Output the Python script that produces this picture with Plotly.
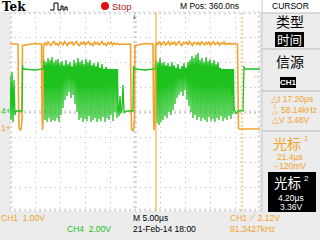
import plotly.graph_objects as go

W, H = 320, 240
GX0, GX1, GY0, GY1 = 10, 260, 12, 211   # graticule box in pixels

# ---------------- data ----------------
T_RANGE = [-25.0, 25.0]          # µs, 5 µs/div
CH1_RANGE = [-3.32, 4.64]        # V, 1 V/div
CH4_RANGE = [-8.0, 7.92]         # V, 2 V/div

cursor1_t = 21.4
cursor2_t = 4.20

# CH1 (orange) explicit pieces (µs, V)
ch1_pre_t = [-25.0, -23.4, -23.3, -23.2, -23.0, -22.8, -22.6, -22.5, -20.0, -18.7, -18.6, -18.5, -18.4, -18.3]
ch1_pre_v = [3.36, 3.36, 1.2, 0.0, -0.08, -0.06, 0.3, 3.3, 3.38, 3.36, 0.8, -0.08, 0.2, 3.3]
ch1_noise1_start, ch1_noise_step = -18.0, 0.3
ch1_noise1 = [3.40, 3.32, 3.44, 3.36, 3.30, 3.42, 3.46, 3.34, 3.38, 3.30, 3.44, 3.40, 3.32,
              3.46, 3.36, 3.30, 3.42, 3.38, 3.44, 3.32, 3.40, 3.46, 3.34, 3.30, 3.42, 3.36,
              3.44, 3.32, 3.40, 3.46, 3.34, 3.38, 3.30, 3.44, 3.36, 3.42, 3.32, 3.40, 3.46,
              3.34, 3.38, 3.30, 3.42, 3.36, 3.44, 3.32, 3.40, 3.36, 3.38, 3.34]
ch1_mid_t = [-2.0, -0.9, -0.8, -0.7, -0.5, -0.3, -0.1, 0.0, 2.0, 3.6, 3.7, 3.8, 3.95, 4.1]
ch1_mid_v = [3.36, 3.36, 1.2, 0.0, -0.1, -0.08, 0.3, 3.3, 3.38, 3.36, 0.8, -0.1, 0.1, 3.3]
ch1_noise2_start = 4.3
ch1_noise2 = [3.42, 3.34, 3.46, 3.30, 3.40, 3.44, 3.32, 3.38, 3.46, 3.30, 3.42, 3.36, 3.44,
              3.32, 3.40, 3.46, 3.34, 3.30, 3.42, 3.38, 3.44, 3.32, 3.46, 3.36, 3.30, 3.42,
              3.40, 3.34, 3.44, 3.30, 3.46, 3.38, 3.32, 3.42, 3.36, 3.44, 3.30, 3.40, 3.46,
              3.34, 3.38, 3.42, 3.32, 3.40, 3.36, 3.44, 3.34, 3.38, 3.36, 3.40, 3.34, 3.38, 3.36]
ch1_post_t = [20.2, 20.5, 20.6, 20.7, 20.9, 25.0]
ch1_post_v = [3.36, 3.36, 1.5, 0.0, -0.04, -0.04]

# CH4 (green) pieces (µs, V)
ch4_pre_t = [-25.0, -24.8, -24.6, -24.4, -24.2, -24.0, -23.8, -23.0, -22.6, -22.5, -22.4, -22.2, -20.0, -18.3]
ch4_pre_v = [2.88, -0.72, 3.12, -0.88, 2.48, -0.32, 0.0, 0.04, 0.0, 3.68, 3.36, 3.36, 3.28, 3.36]
ch4_burst_level = 3.36           # level the bursts keep returning to
ch4_pair_step = 0.4
burst1_start = -18.2
burst1_hi = [4.08, 3.92, 4.24, 4.08, 4.32, 3.92, 4.08, 4.16, 3.84, 4.0, 3.68, 4.08, 3.76, 3.92,
             3.6, 4.08, 3.84, 4.24, 3.92, 4.08, 3.76, 4.16, 3.92, 4.08, 3.68, 3.84, 3.6, 3.92,
             3.44, 3.76, 3.28, 3.52, 3.12, 2.64, 2.96, 2.08, 1.68]
burst1_lo = [-0.72, -0.88, -0.56, -0.88, -0.72, -0.8, -0.56, -0.88, -0.32, 0.24, 0.88, 1.2,
             1.52, 1.04, 1.28, 0.56, -0.08, -0.72, -0.56, -0.88, -0.64, -0.8, -0.4, -0.88,
             -0.72, -0.56, -0.88, -0.64, -0.8, -0.48, -0.88, -0.56, -0.72, -0.32, -0.8, -0.08, -0.56]
ch4_mid_t = [-3.4, -3.2, -3.0, -2.8, -2.6, -2.4, -2.2, -1.5, -0.4, -0.3, -0.2, 0.0, 2.0, 4.0]
ch4_mid_v = [0.4, -0.4, 1.2, -0.2, 0.1, 2.08, -0.1, 0.0, 0.0, 3.6, 3.36, 3.36, 3.28, 3.36]
burst2_start = 4.2
burst2_hi = [4.08, 3.92, 4.24, 3.84, 3.92, 3.68, 3.84, 3.6, 3.92, 3.68, 3.44, 3.76, 3.28, 3.6,
             3.84, 3.44, 3.92, 4.08, 4.4, 4.24, 4.48, 4.64, 4.08, 4.24, 3.92, 4.32, 4.0, 4.16,
             3.84, 4.08, 3.76, 3.92, 3.44, 3.12, 3.28, 2.64, 2.32, 1.84, 1.28]
burst2_lo = [-0.96, -1.12, -0.88, -0.72, -0.4, -0.56, -0.08, -0.32, 0.08, 0.56, 1.04, 1.28,
             1.52, 1.2, 1.68, 0.88, 0.4, -0.08, -0.56, -0.32, -0.72, -0.48, -0.8, -0.56,
             -0.72, -0.88, -0.48, -0.8, -0.64, -0.88, -0.56, -0.72, -0.4, -0.8, -0.56, -0.72,
             -0.4, -0.64, -0.24]
ch4_post_t = [19.8, 20.2, 20.6, 21.0, 21.6, 21.8, 21.9, 22.2, 25.0]
ch4_post_v = [0.2, -0.2, 0.0, 0.04, 0.0, 3.6, 3.36, 3.36, 3.36]

# ---------------- assemble ----------------
def sampled(start, step, vals):
    return [start + i * step for i in range(len(vals))], list(vals)

def burst(start, step, hi, lo, level):
    ts, vs = [], []
    for i, (a, b) in enumerate(zip(hi, lo)):
        t = start + i * step
        ts += [t, t + step * 0.25, t + step * 0.5, t + step * 0.75]
        vs += [a, level, b, level]
    return ts, vs

n1t, n1v = sampled(ch1_noise1_start, ch1_noise_step, ch1_noise1)
n2t, n2v = sampled(ch1_noise2_start, ch1_noise_step, ch1_noise2)
ch1_t = ch1_pre_t + n1t + ch1_mid_t + n2t + ch1_post_t
ch1_v = ch1_pre_v + n1v + ch1_mid_v + n2v + ch1_post_v

b1t, b1v = burst(burst1_start, ch4_pair_step, burst1_hi, burst1_lo, ch4_burst_level)
b2t, b2v = burst(burst2_start, ch4_pair_step, burst2_hi, burst2_lo, ch4_burst_level)
ch4_t = ch4_pre_t + b1t + ch4_mid_t + b2t + ch4_post_t
ch4_v = ch4_pre_v + b1v + ch4_mid_v + b2v + ch4_post_v

ORANGE = "#F2A22A"
GREEN = "#1EC21E"
GRID = "#BEBEBE"
FONT = "Liberation Sans"
CJK = "Noto Sans CJK SC"

fig = go.Figure()
fig.add_trace(go.Scatter(x=ch4_t, y=ch4_v, mode="lines", yaxis="y2",
                         line=dict(color=GREEN, width=1.3), hoverinfo="skip"))
fig.add_trace(go.Scatter(x=ch1_t, y=ch1_v, mode="lines", yaxis="y",
                         line=dict(color=ORANGE, width=1.6), hoverinfo="skip"))

def px(x): return x / W
def py(y): return 1 - y / H

shapes = []
ann = []

def rect(x0, y0, x1, y1, fill, line=None, layer="below"):
    shapes.append(dict(type="rect", xref="paper", yref="paper", x0=px(x0), x1=px(x1),
                       y0=py(y1), y1=py(y0), fillcolor=fill,
                       line=dict(width=0) if line is None else line, layer=layer))

def hline(x0, x1, y, color, width=1, layer="below"):
    shapes.append(dict(type="line", xref="paper", yref="paper", x0=px(x0), x1=px(x1),
                       y0=py(y), y1=py(y), line=dict(color=color, width=width), layer=layer))

def txt(s, x, y, color="#000000", size=8.5, anchor="left", family=FONT, bold=False):
    ann.append(dict(text=("<b>%s</b>" % s) if bold else s, x=px(x), y=py(y), xref="paper",
                    yref="paper", xanchor=anchor, yanchor="middle", showarrow=False,
                    borderpad=0, font=dict(family=family, size=size, color=color)))

# backgrounds
rect(0, 0, W, GY0, "#FFFFFF")
# graticule frame (dotted)
shapes.append(dict(type="rect", xref="paper", yref="paper", x0=px(GX0), x1=px(GX1),
                   y0=py(GY1), y1=py(GY0), line=dict(color=GRID, width=1, dash="1px,4px"),
                   layer="below"))
# center / edge minor ticks
tt = -25.0
while tt <= 25.001:
    for yc, hh in ((0.64, 0.08), (CH1_RANGE[1], 0.1), (CH1_RANGE[0], -0.1)):
        if abs(yc - 0.64) < 1e-6:
            y0_, y1_ = yc - hh, yc + hh
        else:
            y0_, y1_ = yc, yc - hh
        shapes.append(dict(type="line", xref="x", yref="y", x0=tt, x1=tt, y0=y0_, y1=y1_,
                           line=dict(color=GRID, width=1), layer="below"))
    tt += 1.0
vv = 0.64 - 0.2 * 20
while vv <= CH1_RANGE[1] + 0.001:
    if vv >= CH1_RANGE[0]:
        for xc, ww in ((0.0, 0.4), (-25.0, -0.5), (25.0, 0.5)):
            if xc == 0.0:
                a, b = -ww, ww
            else:
                a, b = xc, xc - ww
            shapes.append(dict(type="line", xref="x", yref="y", x0=a, x1=b, y0=vv, y1=vv,
                               line=dict(color=GRID, width=1), layer="below"))
    vv += 0.2

# cursors
shapes.append(dict(type="line", xref="x", yref="paper", x0=cursor2_t, x1=cursor2_t,
                   y0=py(GY1), y1=py(GY0), line=dict(color=ORANGE, width=1), layer="above"))
shapes.append(dict(type="line", xref="x", yref="paper", x0=cursor1_t, x1=cursor1_t,
                   y0=py(GY1), y1=py(GY0), line=dict(color=ORANGE, width=1, dash="2px,2px"),
                   layer="above"))

# right panel
rect(GX1 + 2, 13, W, GY1 + 1, "#ECECEC", layer="above")
rect(GX1 + 2, 0, W, 13, "#FFFFFF", layer="above")
shapes.append(dict(type="line", xref="paper", yref="paper", x0=px(GX1 + 2), x1=px(GX1 + 2),
                   y0=py(GY1 + 1), y1=py(0), line=dict(color="#C8C8C8", width=1), layer="above"))
for yy in (13, 49, 91, 131):
    hline(GX1 + 2, W, yy, "#BBBBBB", layer="above")
rect(275, 32, 304, 47, "#000000", layer="above")
rect(280, 77, 296, 88, "#000000", layer="above")
rect(268, 172, 316, 212, "#000000", layer="above")

# header
shapes.append(dict(type="path", xref="paper", yref="paper", layer="above",
                   path="M %f %f L %f %f L %f %f L %f %f L %f %f L %f %f L %f %f L %f %f L %f %f L %f %f L %f %f L %f %f L %f %f L %f %f" % (
                       px(50), py(10), px(54), py(10), px(54), py(3), px(58), py(3), px(58), py(10),
                       px(61), py(10), px(61), py(6), px(63), py(6), px(63), py(10), px(65), py(10),
                       px(65), py(7), px(67), py(7), px(67), py(10), px(68), py(10)),
                   line=dict(color="#000000", width=1)))
shapes.append(dict(type="circle", xref="paper", yref="paper", x0=px(101), x1=px(109),
                   y0=py(10), y1=py(2), fillcolor="#E01010", line=dict(width=0), layer="above"))

txt("Tek", 1, 7, size=12, family="DejaVu Serif", bold=True)
txt("Stop", 111, 6, color="#B3201A", size=9.5)
txt("M Pos: 360.0ns", 179, 6, size=8.5)
txt("CURSOR", 290, 6, size=8.5, anchor="center")
txt("↓", 134, 16, size=9, anchor="center", bold=True)

# panel texts
txt("类型", 290, 21, size=14, anchor="center", family=CJK)
txt("时间", 289.5, 40, color="#FFFFFF", size=12.5, anchor="center", family=CJK)
txt("信源", 290, 61, size=14, anchor="center", family=CJK)
txt("CH1", 288, 82.5, color="#FFFFFF", size=8, anchor="center", bold=True)
txt("△t 17.20µs", 270, 99, color=ORANGE, size=8.5)
txt("1<br>△t", 275, 110, color=ORANGE, size=4.5, anchor="center")
txt("58.14kHz", 280, 110, color=ORANGE, size=8.5)
txt("△V 3.48V", 271, 120, color=ORANGE, size=8.5)
txt("光标", 287, 143, color=ORANGE, size=14, anchor="center", family=CJK)
txt("1", 306, 138, color=ORANGE, size=8, anchor="center")
txt("21.4µs", 290, 157, color=ORANGE, size=8.5, anchor="center")
txt("−120mV", 290, 166, color=ORANGE, size=8.5, anchor="center")
txt("光标", 287, 182, color="#FFFFFF", size=13.5, anchor="center", family=CJK)
txt("2", 306, 178, color="#FFFFFF", size=8, anchor="center")
txt("4.20µs", 291, 198, color="#FFFFFF", size=8.5, anchor="center")
txt("3.36V", 291, 207, color="#FFFFFF", size=8.5, anchor="center")

# trace markers
txt("1+", 0, 128, color=ORANGE, size=8.5)
txt("4+", 0, 111, color=GREEN, size=8.5)
txt("←", 256, 75, color=ORANGE, size=8, anchor="center", bold=True)

# bottom status
txt("CH1  1.00V", 0, 218, color=ORANGE, size=8.5)
txt("CH4  2.00V", 66, 229, color=GREEN, size=8.5)
txt("M 5.00µs", 132, 218, size=8.5)
txt("21-Feb-14 18:00", 132, 229, size=8.5)
txt("CH1 ⟋ 2.12V", 229, 218, color=ORANGE, size=8.5)
txt("91.3427kHz", 229, 229, color=ORANGE, size=8.5)

fig.update_layout(
    width=W, height=H, margin=dict(l=0, r=0, t=0, b=0, pad=0),
    paper_bgcolor="#ECECEC", plot_bgcolor="#FFFFFF", showlegend=False,
    xaxis=dict(domain=[px(GX0), px(GX1)], range=T_RANGE, tick0=0, dtick=5,
               showgrid=True, gridcolor=GRID, griddash="1px,4px", gridwidth=1,
               zeroline=False, showticklabels=False, ticks="", showline=False, fixedrange=True),
    yaxis=dict(domain=[py(GY1), py(GY0)], range=CH1_RANGE, tick0=0.64, dtick=1,
               showgrid=True, gridcolor=GRID, griddash="1px,4px", gridwidth=1,
               zeroline=False, showticklabels=False, ticks="", showline=False, fixedrange=True),
    yaxis2=dict(domain=[py(GY1), py(GY0)], range=CH4_RANGE, overlaying="y", showgrid=False,
                zeroline=False, showticklabels=False, ticks="", showline=False, fixedrange=True),
    shapes=shapes, annotations=ann,
)
fig.write_html("out.html", config={"displayModeBar": False, "staticPlot": True})
